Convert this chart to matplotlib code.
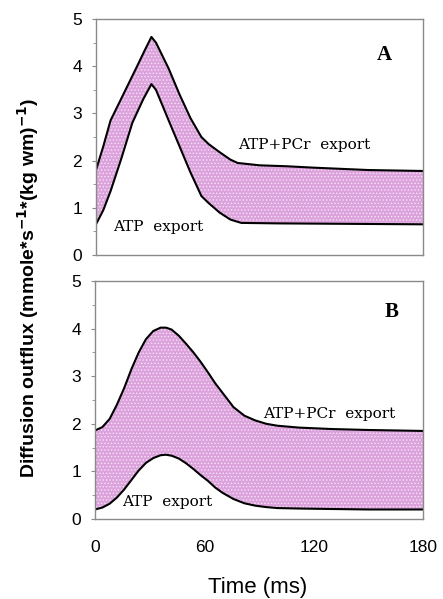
import matplotlib
matplotlib.use("Agg")
import matplotlib.pyplot as plt
import numpy as np

plt.rcParams['hatch.color'] = '#f6e4f6'
plt.rcParams['hatch.linewidth'] = 0.6

# Panel A
tA_top = [0, 4, 8, 15, 22, 27, 30.5, 33, 40, 46, 52, 58, 62, 68, 74, 78, 90, 105, 120, 150, 180]
yA_top = [1.8, 2.3, 2.85, 3.4, 3.95, 4.35, 4.62, 4.5, 3.95, 3.4, 2.9, 2.5, 2.35, 2.18, 2.02, 1.95, 1.9, 1.88, 1.85, 1.8, 1.78]
tA_bot = [0, 4, 8, 14, 20, 26, 30.5, 33, 40, 46, 52, 58, 62, 68, 74, 80, 100, 140, 180]
yA_bot = [0.65, 0.95, 1.35, 2.05, 2.8, 3.3, 3.62, 3.5, 2.85, 2.3, 1.75, 1.25, 1.1, 0.9, 0.75, 0.68, 0.67, 0.66, 0.65]

# Panel B
tB = [0, 4, 8, 12, 16, 20, 24, 28, 32, 36, 39, 42, 46, 50, 54, 58, 62, 66, 70, 76, 82, 88, 94, 100, 112, 130, 150, 180]
yB_top = [1.86, 1.93, 2.1, 2.4, 2.75, 3.15, 3.5, 3.78, 3.95, 4.02, 4.02, 3.98, 3.85, 3.68, 3.5, 3.3, 3.08, 2.85, 2.65, 2.35, 2.17, 2.07, 2.0, 1.96, 1.92, 1.89, 1.87, 1.85]
yB_bot = [0.2, 0.24, 0.32, 0.45, 0.62, 0.82, 1.02, 1.18, 1.28, 1.34, 1.35, 1.33, 1.27, 1.17, 1.05, 0.92, 0.8, 0.66, 0.55, 0.42, 0.33, 0.28, 0.25, 0.23, 0.22, 0.21, 0.2, 0.2]

xticks = [0, 60, 120, 180]
yticks = [0, 1, 2, 3, 4, 5]

fig = plt.figure(figsize=(4.43, 5.99), dpi=100)
W, H = 443, 599
axA = fig.add_axes([96 / W, 1 - 255 / H, 327 / W, 236 / H])
axB = fig.add_axes([95 / W, 1 - 519 / H, 328 / W, 238 / H])

fill_kw = dict(facecolor='#dca2dc', hatch='.....', edgecolor='#f6e4f6', linewidth=0)
line_kw = dict(color='black', lw=1.5)
SANS = 'Liberation Sans'

def style(ax):
    ax.set_xlim(0, 180)
    ax.set_ylim(0, 5)
    ax.set_yticks(yticks)
    ax.set_yticks(np.arange(0, 5.01, 0.5), minor=True)
    for s in ax.spines.values():
        s.set_color('#8a8a8a')
        s.set_linewidth(1.0)
    ax.tick_params(axis='y', which='major', length=3, color='#8a8a8a', labelsize=12.5, pad=7)
    ax.tick_params(axis='y', which='minor', length=2, color='#8a8a8a')
    ax.tick_params(axis='x', length=0, labelsize=12.5, pad=15)
    for lab in ax.get_yticklabels() + ax.get_xticklabels():
        lab.set_fontfamily(SANS)

serif = dict(family='DejaVu Serif')
note_fs = 11

# Panel A
axA.fill(list(tA_top) + list(tA_bot)[::-1], list(yA_top) + list(yA_bot)[::-1], **fill_kw)
axA.plot(tA_top, yA_top, **line_kw)
axA.plot(tA_bot, yA_bot, **line_kw)
style(axA)
axA.set_xticks([])
axA.text(159, 4.24, 'A', fontsize=15, fontweight='bold', ha='center', va='center', family='Liberation Serif')
axA.text(78, 2.33, 'ATP+PCr  export', fontsize=note_fs, ha='left', va='center', **serif)
axA.text(9.4, 0.6, 'ATP  export', fontsize=note_fs, ha='left', va='center', **serif)

# Panel B
axB.fill_between(tB, yB_bot, yB_top, **fill_kw)
axB.plot(tB, yB_top, **line_kw)
axB.plot(tB, yB_bot, **line_kw)
style(axB)
axB.set_xticks(xticks)
axB.set_xticklabels([str(v) for v in xticks], fontfamily=SANS)
axB.text(163, 4.34, 'B', fontsize=15, fontweight='bold', ha='center', va='center', family='Liberation Serif')
axB.text(92, 2.2, 'ATP+PCr  export', fontsize=note_fs, ha='left', va='center', **serif)
axB.text(14.6, 0.35, 'ATP  export', fontsize=note_fs, ha='left', va='center', **serif)

fig.text(258 / W, 1 - 587 / H, 'Time (ms)', fontsize=16, ha='center', va='center', family=SANS)
fig.text(28 / W, 1 - 288 / H, r'Diffusion outflux (mmole*s$^{\mathbf{-1}}$*(kg wm)$^{\mathbf{-1}}$)',
         rotation=90, fontsize=14, fontweight='bold', ha='center', va='center', family=SANS)

fig.savefig('out.png', dpi=100)
